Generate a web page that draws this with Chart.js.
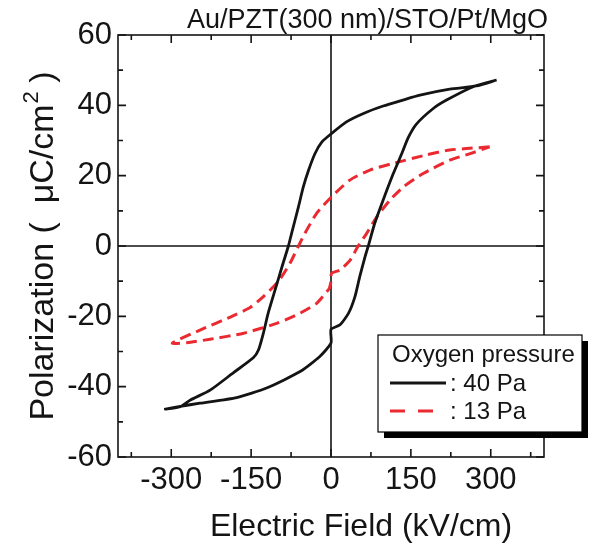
<!DOCTYPE html>
<html>
<head>
<meta charset="utf-8">
<script src="https://cdn.jsdelivr.net/npm/chart.js@4.4.1/dist/chart.umd.min.js"></script>
<style>
    html, body { margin: 0; padding: 0; background: #fff; }
    #wrap { position: relative; width: 589px; height: 551px; }
</style>
</head>
<body>
<div id="wrap"><canvas id="loopChart" width="589" height="551"></canvas></div>
<script>
// P-E hysteresis loops (kV/cm, uC/cm2)
// 40 Pa: descending branch from +tip, then ascending branch back
var field40 = [311, 273, 223, 167, 135, 98, 61, 29, 1, -17, -30, -42, -52, -61, -74, -80, -92, -105, -118, -127, -136, -146, -183, -227, -264, -283, -311,
               -283, -246, -177, -121, -58, -21, 0, 0, 17, 33, 45, 54, 64, 70, 82, 98, 117, 133, 145, 160, 192, 217, 267, 311];
var pol40 = [47.2, 45.5, 44.6, 42.9, 41.5, 39.8, 37.7, 35.3, 32, 29.6, 26.3, 21.6, 16.8, 11.2, 3.6, 0, -5.9, -12.5, -19.1, -24.8, -29.5, -31.8, -36, -41, -43.8, -45.7, -46.4,
             -45.6, -44.7, -43.1, -40.4, -35.7, -31.4, -27.6, -23.7, -22.4, -19.1, -14.4, -8.7, -3, 0, 6.4, 13.1, 20.6, 26.3, 30.8, 34.6, 39.1, 41.5, 45.3, 47.2];

// 13 Pa
var field13 = [298, 254, 223, 179, 117, 73, 36, 1, -27, -49, -61, -77, -99, -127, -152, -189, -246, -298,
               -271, -227, -164, -102, -58, -27, -8, -3, 0, 1, 17, 36, 51, 67, 86, 111, 136, 173, 223, 260, 298];
var pol13 = [28.2, 27.7, 27.3, 25.9, 23.5, 21.6, 18.8, 14, 9.3, 3.6, 0, -4.9, -10.1, -14.4, -17.5, -20.2, -23.9, -27.6,
             -27.5, -26.5, -24.8, -22, -19.1, -16.3, -13, -12, -10, -7.8, -6.8, -4, 0, 3.6, 8.3, 13.1, 16.8, 20.6, 24.4, 26.2, 28.2];

var xTicks = [-375, -300, -225, -150, -75, 0, 75, 150, 225, 300, 375];
var yTicks = [-60, -50, -40, -30, -20, -10, 0, 10, 20, 30, 40, 50, 60];
var legendTitle = 'Oxygen pressure';
var seriesNames = [': 40 Pa', ': 13 Pa'];
var sampleName = 'Au/PZT(300 nm)/STO/Pt/MgO';
var xTitle = 'Electric Field (kV/cm)';
var yTitle = ['Polarization (  \u03bcC/cm', '2', ' )'];

var FONT = '"Liberation Sans", Arial, sans-serif';
var INK = '#141414';
var RED = '#ea2a30';

function toPoints(xs, ys) {
    var pts = [];
    for (var i = 0; i < xs.length; i++) pts.push({x: xs[i], y: ys[i]});
    return pts;
}

// frame, inward ticks, zero lines, titles, legend box
var framePlugin = {
    id: 'frame',
    beforeDatasetsDraw: function (chart) {
        var ctx = chart.ctx, a = chart.chartArea;
        var xs = chart.scales.x, ys = chart.scales.y;
        ctx.save();
        ctx.strokeStyle = INK;
        ctx.lineWidth = 1.6;
        var x0 = xs.getPixelForValue(0), y0 = ys.getPixelForValue(0);
        ctx.beginPath();
        ctx.moveTo(x0, a.top); ctx.lineTo(x0, a.bottom);
        ctx.moveTo(a.left, y0); ctx.lineTo(a.right, y0);
        ctx.stroke();
        ctx.restore();
    },
    afterDatasetsDraw: function (chart) {
        var ctx = chart.ctx, a = chart.chartArea;
        var xs = chart.scales.x, ys = chart.scales.y;
        ctx.save();
        ctx.strokeStyle = INK;
        ctx.lineWidth = 1.6;
        ctx.strokeRect(a.left, a.top, a.right - a.left, a.bottom - a.top);
        ctx.beginPath();
        xTicks.forEach(function (v) {
            var px = xs.getPixelForValue(v);
            var len = (v % 150 === 0) ? 8 : 5;
            ctx.moveTo(px, a.bottom); ctx.lineTo(px, a.bottom - len);
            ctx.moveTo(px, a.top); ctx.lineTo(px, a.top + len);
        });
        yTicks.forEach(function (v) {
            var py = ys.getPixelForValue(v);
            var len = (v % 20 === 0) ? 8 : 5;
            ctx.moveTo(a.left, py); ctx.lineTo(a.left + len, py);
            ctx.moveTo(a.right, py); ctx.lineTo(a.right - len, py);
        });
        ctx.stroke();

        ctx.fillStyle = INK;
        ctx.textBaseline = 'alphabetic';

        // sample label top right
        ctx.font = '27px ' + FONT;
        ctx.textAlign = 'right';
        ctx.fillText(sampleName, 548, 28);

        // x axis title
        ctx.font = '32px ' + FONT;
        ctx.textAlign = 'center';
        ctx.fillText(xTitle, 361, 536);

        // y axis title, rotated, with superscript 2
        ctx.save();
        ctx.translate(53, 246);
        ctx.rotate(-Math.PI / 2);
        ctx.textAlign = 'left';
        ctx.font = '34px ' + FONT;
        var w1 = ctx.measureText(yTitle[0]).width;
        var w3 = ctx.measureText(yTitle[2]).width;
        ctx.font = '22px ' + FONT;
        var w2 = ctx.measureText(yTitle[1]).width;
        var start = -(w1 + w2 + w3) / 2;
        ctx.font = '34px ' + FONT;
        ctx.fillText(yTitle[0], start, 0);
        ctx.fillText(yTitle[2], start + w1 + w2, 0);
        ctx.font = '22px ' + FONT;
        ctx.fillText(yTitle[1], start + w1 + 1, -15);
        ctx.restore();

        // legend with drop shadow
        var bx = 378, by = 335, bw = 204, bh = 97;
        ctx.fillStyle = '#000';
        ctx.fillRect(bx + 6, by + 6, bw, bh);
        ctx.fillStyle = '#fff';
        ctx.fillRect(bx, by, bw, bh);
        ctx.lineWidth = 1.2;
        ctx.strokeStyle = '#000';
        ctx.strokeRect(bx, by, bw, bh);

        ctx.fillStyle = INK;
        ctx.font = '24px ' + FONT;
        ctx.textAlign = 'left';
        ctx.fillText(legendTitle, 392, 362);
        ctx.fillText(seriesNames[0], 450, 391);
        ctx.fillText(seriesNames[1], 450, 419);

        ctx.lineWidth = 3;
        ctx.strokeStyle = INK;
        ctx.beginPath(); ctx.moveTo(390, 383); ctx.lineTo(446, 383); ctx.stroke();
        ctx.strokeStyle = RED;
        ctx.setLineDash([15, 13]);
        ctx.beginPath(); ctx.moveTo(390, 411); ctx.lineTo(446, 411); ctx.stroke();
        ctx.restore();
    }
};

var ctx = document.getElementById('loopChart').getContext('2d');
var loopChart = new Chart(ctx, {
    type: 'scatter',
    data: {
        datasets: [{
            label: seriesNames[0],
            data: toPoints(field40, pol40),
            showLine: true,
            borderColor: INK,
            borderWidth: 2.8,
            pointRadius: 0,
            tension: 0.2
        }, {
            label: seriesNames[1],
            data: toPoints(field13, pol13),
            showLine: true,
            borderColor: RED,
            borderWidth: 3,
            borderDash: [11, 6],
            pointRadius: 0,
            tension: 0.2
        }]
    },
    options: {
        responsive: false,
        animation: false,
        layout: { padding: { top: 35, right: 45, left: 0, bottom: 0 } },
        plugins: { legend: { display: false }, tooltip: { enabled: false } },
        scales: {
            x: {
                type: 'linear',
                min: -400,
                max: 400,
                grid: { display: false, drawTicks: false },
                border: { display: false },
                afterBuildTicks: function (s) { s.ticks = xTicks.map(function (v) { return {value: v}; }); },
                afterFit: function (s) { s.height = 94; },
                ticks: {
                    autoSkip: false,
                    maxRotation: 0,
                    padding: 5,
                    color: INK,
                    font: { family: FONT, size: 31 },
                    callback: function (v) { return v % 150 === 0 ? String(v) : ''; }
                }
            },
            y: {
                type: 'linear',
                min: -60,
                max: 60,
                grid: { display: false, drawTicks: false },
                border: { display: false },
                afterBuildTicks: function (s) { s.ticks = yTicks.map(function (v) { return {value: v}; }); },
                afterFit: function (s) { s.width = 118; },
                ticks: {
                    autoSkip: false,
                    padding: 6,
                    color: INK,
                    font: { family: FONT, size: 31 },
                    callback: function (v) { return v % 20 === 0 ? String(v) : ''; }
                }
            }
        }
    },
    plugins: [framePlugin]
});
</script>
</body>
</html>
